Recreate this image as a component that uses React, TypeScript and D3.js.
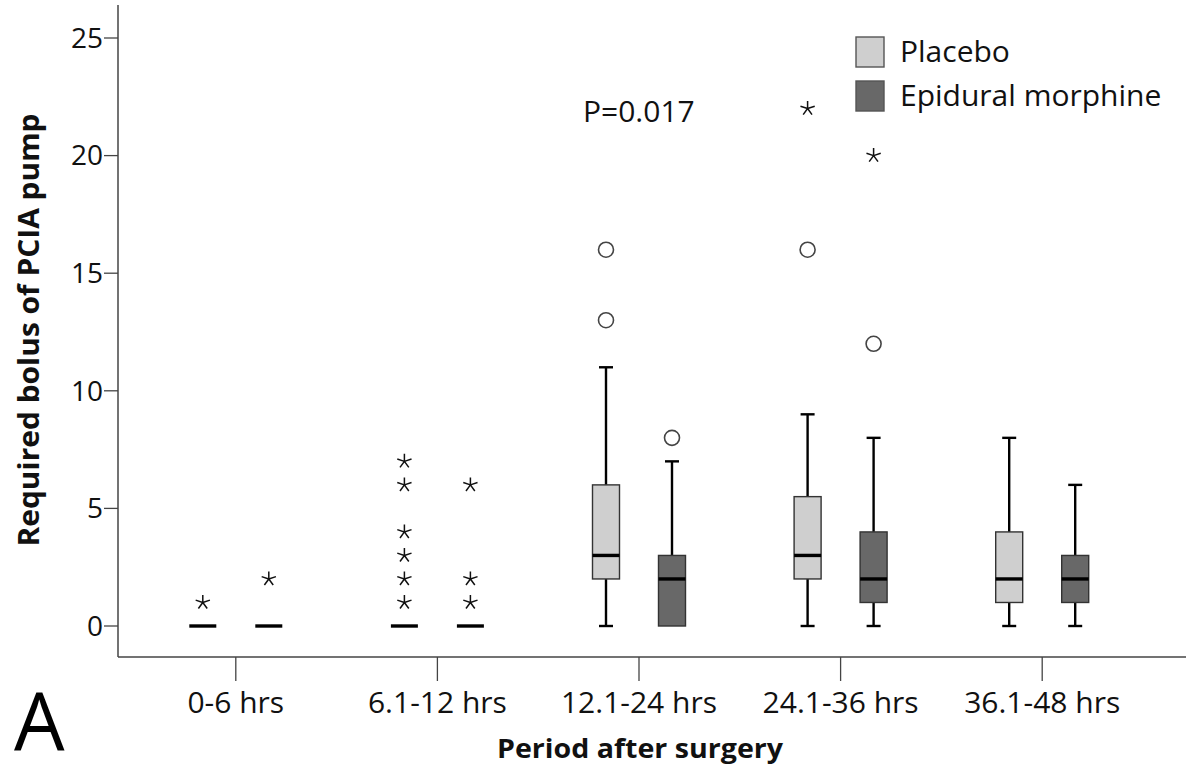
import React from 'react';
import * as d3 from 'd3';

// periods on the x axis
const periods = ['0-6 hrs', '6.1-12 hrs', '12.1-24 hrs', '24.1-36 hrs', '36.1-48 hrs'];
const groups = ['Placebo', 'Epidural morphine'];
const yTicks = [0, 5, 10, 15, 20, 25];

// Placebo box summaries
const placeboMin = [0, 0, 0, 0, 0];
const placeboQ1 = [0, 0, 2, 2, 1];
const placeboMedian = [0, 0, 3, 3, 2];
const placeboQ3 = [0, 0, 6, 5.5, 4];
const placeboMax = [0, 0, 11, 9, 8];
const placeboOutliers = [[], [], [13, 16], [16], []];
const placeboExtremes = [[1], [1, 2, 3, 4, 6, 7], [], [22], []];

// Epidural morphine box summaries
const epiduralMin = [0, 0, 0, 0, 0];
const epiduralQ1 = [0, 0, 0, 1, 1];
const epiduralMedian = [0, 0, 2, 2, 2];
const epiduralQ3 = [0, 0, 3, 4, 3];
const epiduralMax = [0, 0, 7, 8, 6];
const epiduralOutliers = [[], [], [8], [12], []];
const epiduralExtremes = [[2], [1, 2, 6], [], [20], []];

const W = 1186;
const H = 774;
const FONT = '"Open Sans", "Noto Sans", sans-serif';
const fills = ['#cfcfcf', '#686868'];

const x = d3.scalePoint<string>().domain(periods).range([135, 1143]).padding(0.5);
const y = d3.scaleLinear().domain([0, 25]).range([626, 38]);
const offset = d3.scalePoint<string>().domain(groups).range([-33, 33]);

const series = [
  { name: groups[0], min: placeboMin, q1: placeboQ1, med: placeboMedian, q3: placeboQ3, max: placeboMax, out: placeboOutliers, ext: placeboExtremes },
  { name: groups[1], min: epiduralMin, q1: epiduralQ1, med: epiduralMedian, q3: epiduralQ3, max: epiduralMax, out: epiduralOutliers, ext: epiduralExtremes },
];

// five-armed star used by SPSS for extreme values
const starPath = (r: number) => {
  let d = '';
  for (let k = 0; k < 5; k++) {
    const a = -Math.PI / 2 + (k * 2 * Math.PI) / 5;
    d += `M0,0L${(r * Math.cos(a)).toFixed(2)},${(r * Math.sin(a)).toFixed(2)}`;
  }
  return d;
};

const BoxGroup = ({ s, gi }: { s: any; gi: number }) => {
  const bw = 27;
  const cap = 14;
  return (
    <g>
      {periods.map((p, i) => {
        const cx = (x(p) as number) + (offset(s.name) as number);
        const flat = s.q1[i] === s.q3[i];
        return (
          <g key={p}>
            {!flat && (
              <>
                <line x1={cx} x2={cx} y1={y(s.max[i])} y2={y(s.q3[i])} stroke="#000" strokeWidth={2.4} />
                <line x1={cx} x2={cx} y1={y(s.q1[i])} y2={y(s.min[i])} stroke="#000" strokeWidth={2.4} />
                <line x1={cx - cap / 2} x2={cx + cap / 2} y1={y(s.max[i])} y2={y(s.max[i])} stroke="#000" strokeWidth={2.4} />
                {s.min[i] < s.q1[i] && (
                  <line x1={cx - cap / 2} x2={cx + cap / 2} y1={y(s.min[i])} y2={y(s.min[i])} stroke="#000" strokeWidth={2.4} />
                )}
                <rect x={cx - bw / 2} y={y(s.q3[i])} width={bw} height={y(s.q1[i]) - y(s.q3[i])}
                  fill={fills[gi]} stroke="#333" strokeWidth={1.4} />
              </>
            )}
            <line x1={cx - bw / 2} x2={cx + bw / 2} y1={y(s.med[i])} y2={y(s.med[i])} stroke="#000" strokeWidth={3.4} />
            {s.out[i].map((v: number, j: number) => (
              <circle key={'o' + j} cx={cx} cy={y(v)} r={7.5} fill="#fff" stroke="#444" strokeWidth={1.6} />
            ))}
            {s.ext[i].map((v: number, j: number) => (
              <path key={'e' + j} d={starPath(7.5)} transform={`translate(${cx},${y(v)})`} stroke="#111" strokeWidth={1.5} fill="none" />
            ))}
          </g>
        );
      })}
    </g>
  );
};

export default function App() {
  return (
    <svg width={W} height={H} style={{ position: 'absolute', left: 0, top: 0, background: '#fff' }} fontFamily={FONT}>
      <rect width={W} height={H} fill="#fff" />
      {/* y axis */}
      <line x1={118} x2={118} y1={5} y2={657} stroke="#444" strokeWidth={1.5} />
      {yTicks.map((t) => (
        <g key={t} transform={`translate(0,${y(t)})`}>
          <line x1={104} x2={118} stroke="#444" strokeWidth={1.3} />
          <text x={103} dy="0.35em" textAnchor="end" fontSize={28} fill="#111">{t}</text>
        </g>
      ))}
      {/* x axis */}
      <line x1={118} x2={W} y1={657} y2={657} stroke="#444" strokeWidth={1.5} />
      {periods.map((p) => (
        <g key={p} transform={`translate(${x(p)},0)`}>
          <line y1={657} y2={681} stroke="#444" strokeWidth={1.3} />
          <text y={713} textAnchor="middle" fontSize={30} fill="#111">{p}</text>
        </g>
      ))}
      {series.map((s, gi) => <BoxGroup key={s.name} s={s} gi={gi} />)}
      {/* legend */}
      {groups.map((g, i) => (
        <g key={g} transform={`translate(856,${37 + i * 44})`}>
          <rect width={28} height={30} fill={fills[i]} stroke="#555" strokeWidth={1.4} />
          <text x={44} y={25} fontSize={30} fill="#111">{g}</text>
        </g>
      ))}
      <text x={583} y={122} fontSize={30} fill="#111">P=0.017</text>
      <text transform="translate(39,330) rotate(-90)" textAnchor="middle" fontSize={28} fontWeight="bold" fill="#111"
        textLength={433} lengthAdjust="spacingAndGlyphs">
        Required bolus of PCIA pump
      </text>
      <text x={640} y={758} textAnchor="middle" fontSize={27} fontWeight="bold" fill="#111"
        textLength={286} lengthAdjust="spacingAndGlyphs">Period after surgery</text>
      <text x={14} y={750} fontSize={80} fill="#000">A</text>
    </svg>
  );
}
